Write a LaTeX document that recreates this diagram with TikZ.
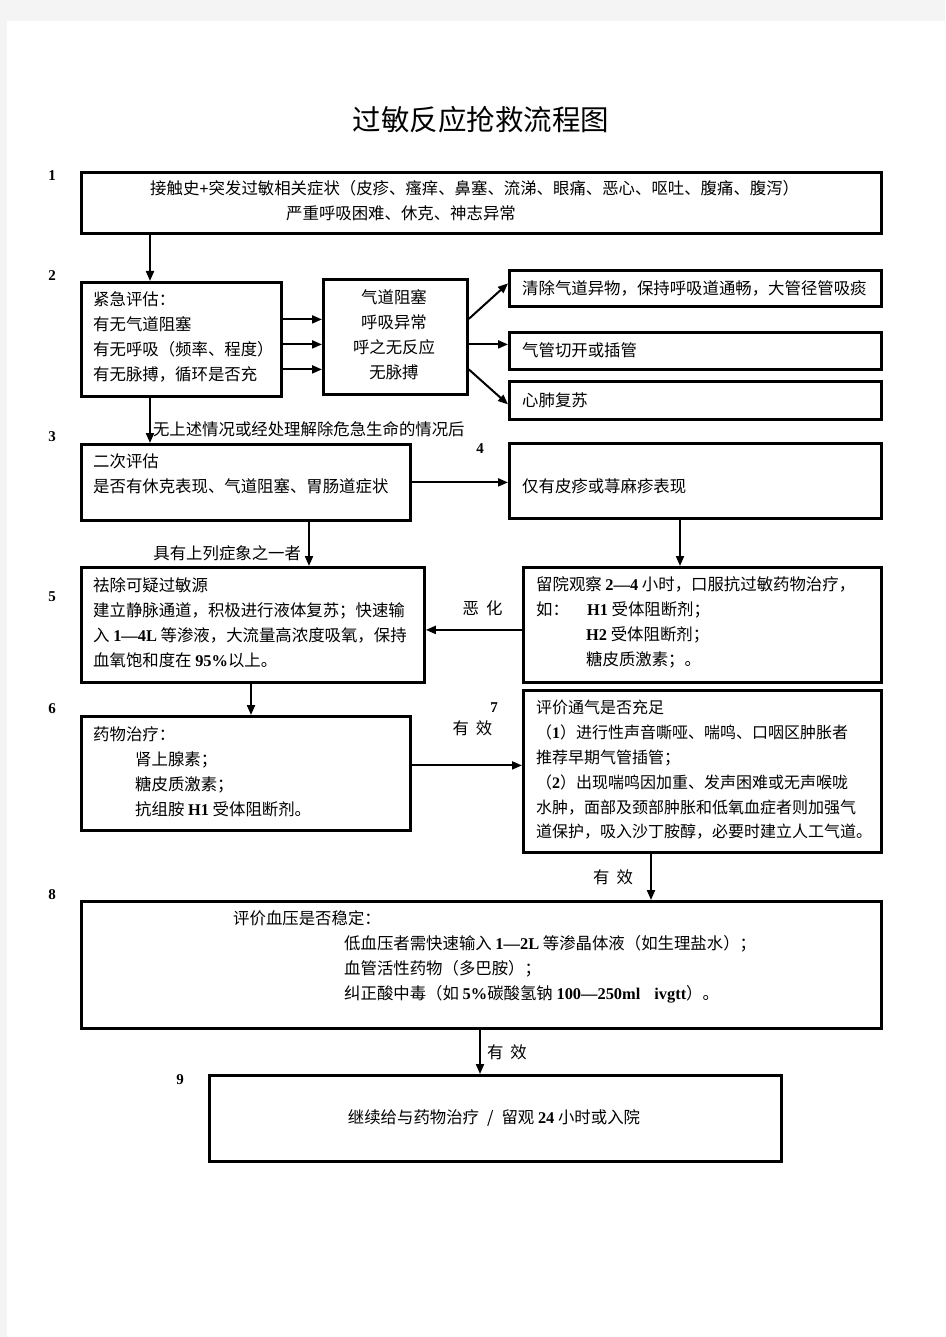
\documentclass[tikz,border=0pt]{standalone}
\usepackage{fontspec}
\setmainfont{Liberation Serif}
\newfontfamily\cjk{Noto Sans CJK SC}
\usetikzlibrary{arrows.meta,calc}
\definecolor{PageGray}{HTML}{F4F4F4}
\newcommand{\lat}[1]{{\rmfamily\bfseries #1}}

\begin{document}
\begin{tikzpicture}[
  x=1pt, y=-1pt,
  every node/.style = {inner sep=0pt, font=\cjk\fontsize{16.4}{25}\selectfont},
  BoxStyle/.style 2 args = {draw, line width=2.8pt, anchor=north west,
    minimum width=#1, minimum height=#2},
  TxtStyle/.style = {anchor=west, align=left},
  StepStyle/.style = {font=\rmfamily\bfseries\fontsize{15}{15}\selectfont}
  ]
  \useasboundingbox (0,0) rectangle (945,1337);
  \fill[white] (0,0) rectangle (945,1337);
  \fill[PageGray] (0,0) rectangle (945,21);
  \fill[PageGray] (0,0) rectangle (7,1337);

  \node[font=\cjk\fontsize{28.5}{30}\selectfont] (Title) at (481,120) {过敏反应抢救流程图};

  % step numbers
  \node[StepStyle] (S1) at (52,176) {1};
  \node[StepStyle] (S2) at (52,276) {2};
  \node[StepStyle] (S3) at (52,437) {3};
  \node[StepStyle] (S4) at (480,449) {4};
  \node[StepStyle] (S5) at (52,597) {5};
  \node[StepStyle] (S6) at (52,709) {6};
  \node[StepStyle] (S7) at (494,708) {7};
  \node[StepStyle] (S8) at (52,895) {8};
  \node[StepStyle] (S9) at (180,1080) {9};

  % boxes
  \node[BoxStyle={800pt}{61pt}] (Box1) at (80,171) {};
  \node[BoxStyle={200pt}{114pt}] (Box2) at (80,281) {};
  \node[BoxStyle={144pt}{115pt}] (Box2b) at (322,278) {};
  \node[BoxStyle={372pt}{36pt}] (BoxA) at (508,269) {};
  \node[BoxStyle={372pt}{37pt}] (BoxB) at (508,331) {};
  \node[BoxStyle={372pt}{38pt}] (BoxC) at (508,380) {};
  \node[BoxStyle={329pt}{76pt}] (Box3) at (80,443) {};
  \node[BoxStyle={372pt}{75pt}] (Box4) at (508,442) {};
  \node[BoxStyle={343pt}{115pt}] (Box5) at (80,566) {};
  \node[BoxStyle={358pt}{115pt}] (Box5b) at (522,566) {};
  \node[BoxStyle={329pt}{114pt}] (Box6) at (80,715) {};
  \node[BoxStyle={358pt}{162pt}] (Box7) at (522,689) {};
  \node[BoxStyle={800pt}{127pt}] (Box8) at (80,900) {};
  \node[BoxStyle={572pt}{86pt}] (Box9) at (208,1074) {};

  % texts
  \node[TxtStyle] (Txt1) at (150,201) {接触史\lat{+}突发过敏相关症状（皮疹、瘙痒、鼻塞、流涕、眼痛、恶心、呕吐、腹痛、腹泻）\\
    \hspace*{136pt}严重呼吸困难、休克、神志异常};
  \node[TxtStyle] (Txt2) at (93,337) {紧急评估：\\有无气道阻塞\\有无呼吸（频率、程度）\\有无脉搏，循环是否充};
  \node[align=center] (Txt2b) at (394,335) {气道阻塞\\呼吸异常\\呼之无反应\\无脉搏};
  \node[TxtStyle] (TxtA) at (522,288) {清除气道异物，保持呼吸道通畅，大管径管吸痰};
  \node[TxtStyle] (TxtB) at (522,350) {气管切开或插管};
  \node[TxtStyle] (TxtC) at (522,400) {心肺复苏};
  \node[TxtStyle] (Txt3) at (93,473.5) {二次评估\\是否有休克表现、气道阻塞、胃肠道症状};
  \node[TxtStyle] (Txt4) at (522,486) {仅有皮疹或荨麻疹表现};
  \node[TxtStyle] (Txt5) at (93,622.5) {祛除可疑过敏源\\建立静脉通道，积极进行液体复苏；快速输\\
    入 \lat{1—4L} 等渗液，大流量高浓度吸氧，保持\\血氧饱和度在 \lat{95\%}以上。};
  \node[TxtStyle] (Txt5b) at (536,622.5) {留院观察 \lat{2—4} 小时，口服抗过敏药物治疗，\\
    如：\hspace*{18pt}\lat{H1} 受体阻断剂；\\\hspace*{50pt}\lat{H2} 受体阻断剂；\\\hspace*{50pt}糖皮质激素；。};
  \node[TxtStyle] (Txt6) at (93,771.5) {药物治疗：\\\hspace*{42pt}肾上腺素；\\\hspace*{42pt}糖皮质激素；\\
    \hspace*{42pt}抗组胺 \lat{H1} 受体阻断剂。};
  \node[TxtStyle, font=\cjk\fontsize{16}{24.8}\selectfont] (Txt7) at (536,770) {评价通气是否充足\\
    （\lat{1}）进行性声音嘶哑、喘鸣、口咽区肿胀者\\推荐早期气管插管；\\
    （\lat{2}）出现喘鸣因加重、发声困难或无声喉咙\\水肿，面部及颈部肿胀和低氧血症者则加强气\\
    道保护，吸入沙丁胺醇，必要时建立人工气道。};
  \node[TxtStyle] (Txt8) at (233,957) {评价血压是否稳定：\\
    \hspace*{111pt}低血压者需快速输入 \lat{1—2L} 等渗晶体液（如生理盐水）；\\
    \hspace*{111pt}血管活性药物（多巴胺）；\\
    \hspace*{111pt}纠正酸中毒（如 \lat{5\%}碳酸氢钠 \lat{100—250ml}\hspace{14pt}\lat{ivgtt}）。};
  \node (Txt9) at (494,1118) {继续给与药物治疗\hspace{8pt}/\hspace{8pt}留观 \lat{24} 小时或入院};

  \tikzset{EdgeDown/.style = {line width=2pt, -{Triangle[length=10pt,width=8pt]}}}
  \tikzset{EdgeRight/.style = {line width=2pt, -{Triangle[length=10pt,width=8pt]}}}
  \tikzset{LabelStyle/.style = {font=\cjk\fontsize{16.4}{20}\selectfont}}

  \coordinate (J12) at ($(Box2.north west)+(70,0)$);
  \coordinate (J23) at ($(Box3.north west)+(70,0)$);
  \coordinate (J35) at ($(Box5.north west)+(229,0)$);
  \coordinate (J45) at ($(Box5b.north west)+(158,0)$);
  \coordinate (J56) at ($(Box6.north west)+(171,0)$);
  \coordinate (J55) at ($(Box5.east)+(0,5)$);
  \coordinate (J67) at ($(Box7.west)+(0,-6)$);
  \coordinate (J78) at ($(Box8.north west)+(571,0)$);
  \coordinate (J89) at ($(Box9.north west)+(272,0)$);
  \coordinate (Out1) at ($(Box2.east)+(0,-20)$);
  \coordinate (Out2) at ($(Box2.east)+(0,5)$);
  \coordinate (Out3) at ($(Box2.east)+(0,30)$);
  \coordinate (Fan1) at ($(Box2b.east)+(0,-18)$);
  \coordinate (Fan2) at ($(Box2b.east)+(0,7.5)$);
  \coordinate (Fan3) at ($(Box2b.east)+(0,32.5)$);

  \draw[EdgeDown] (Box1.south -| J12) -- (J12);
  \draw[EdgeRight] (Out1) -- (Out1 -| Box2b.west);
  \draw[EdgeRight] (Out2) -- (Out2 -| Box2b.west);
  \draw[EdgeRight] (Out3) -- (Out3 -| Box2b.west);
  \draw[EdgeRight] (Fan1) -- ($(BoxA.west)+(0,-5)$);
  \draw[EdgeRight] (Fan2) -- (Fan2 -| BoxB.west);
  \draw[EdgeRight] (Fan3) -- ($(BoxC.west)+(0,4)$);
  \draw[EdgeDown] (Box2.south -| J23) -- node[LabelStyle, pos=0.7, right=2pt] (Cond1) {无上述情况或经处理解除危急生命的情况后} (J23);
  \draw[EdgeRight] (Box3.east) -- (Box3.east -| Box4.west);
  \draw[EdgeDown] (Box3.south -| J35) -- node[LabelStyle, pos=0.72, left=7pt] (Cond2) {具有上列症象之一者} (J35);
  \draw[EdgeDown] (Box4.south -| J45) -- (J45);
  \draw[EdgeRight] (J55 -| Box5b.west) -- node[LabelStyle, pos=0.41, above=13pt] (Worse) {恶\hspace{7pt}化} (J55);
  \draw[EdgeDown] (Box5.south -| J56) -- (J56);
  \draw[EdgeRight] (J67 -| Box6.east) -- node[LabelStyle, pos=0.55, above=29pt] (Eff1) {有\hspace{7pt}效} (J67);
  \draw[EdgeDown] (Box7.south -| J78) -- node[LabelStyle, left=17pt] (Eff2) {有\hspace{7pt}效} (J78);
  \draw[EdgeDown] (Box8.south -| J89) -- node[LabelStyle, right=6pt] (Eff3) {有\hspace{7pt}效} (J89);

\end{tikzpicture}
\end{document}
